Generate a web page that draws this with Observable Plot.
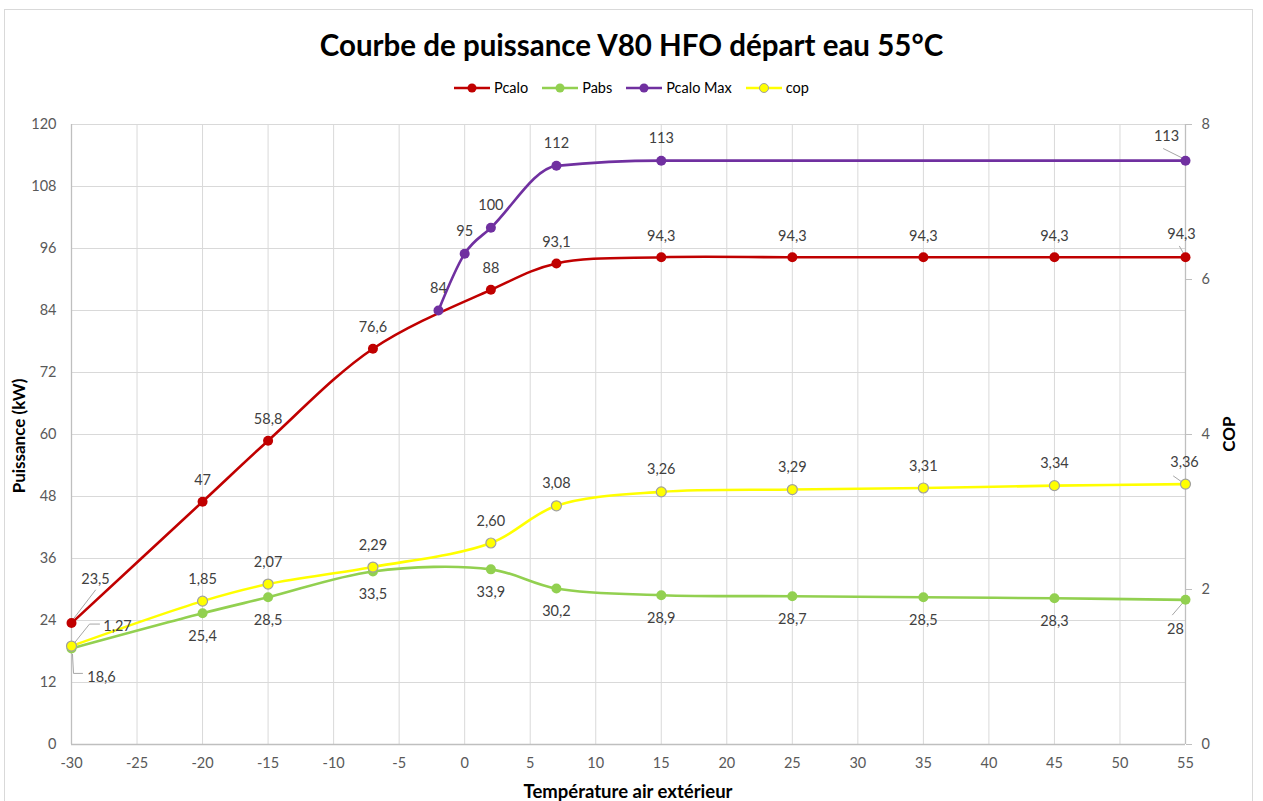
<!DOCTYPE html>
<html>
<head>
<meta charset="utf-8">
<script src="https://cdn.jsdelivr.net/npm/d3@7"></script>
<script src="https://cdn.jsdelivr.net/npm/@observablehq/plot@0.6"></script>
<style>
  body { margin: 0; background: #fff; font-family: Lato, "Open Sans", sans-serif; }
  #wrap { position: relative; width: 1263px; height: 801px; overflow: hidden; background: #fff; }
  #frame { position: absolute; left: 4px; top: 9px; width: 1249px; height: 810px; border: 1px solid #d9d9d9; box-sizing: border-box; }
  #title { position: absolute; top: 26px; left: 0; width: 1263px; text-align: center; font-weight: bold; font-size: 29.5px; color: #000; line-height: 38px; }
  #legend { position: absolute; top: 78px; left: 0; width: 1263px; display: flex; justify-content: center; gap: 14px; font-size: 14.5px; color: #000; line-height: 20px; }
  #legend .item { display: flex; align-items: center; gap: 4px; }
  #chart { position: absolute; left: 0; top: 100px; }
  .axtitle { position: absolute; font-weight: bold; font-size: 17px; color: #000; white-space: nowrap; transform: translate(-50%, -50%); }
  .rot { transform: translate(-50%, -50%) rotate(-90deg); }
</style>
</head>
<body>
<div id="wrap">
  <div id="frame"></div>
  <div id="title">Courbe de puissance V80 HFO départ eau 55°C</div>
  <div id="legend"></div>
  <div id="chart"></div>
  <div class="axtitle rot" style="left:18px; top:436px;">Puissance (kW)</div>
  <div class="axtitle rot" style="left:1228px; top:434px;">COP</div>
  <div class="axtitle" style="left:628px; top:791px; font-size:18.5px;">Température air extérieur</div>
</div>
<script>
// ---- data ----
const temps = [-30, -20, -15, -7, 2, 7, 15, 25, 35, 45, 55];
const pcalo = [23.5, 47, 58.8, 76.6, 88, 93.1, 94.3, 94.3, 94.3, 94.3, 94.3];
const pabs = [18.6, 25.4, 28.5, 33.5, 33.9, 30.2, 28.9, 28.7, 28.5, 28.3, 28];
const copVals = [1.27, 1.85, 2.07, 2.29, 2.60, 3.08, 3.26, 3.29, 3.31, 3.34, 3.36];
const tempsMax = [-2, 0, 2, 7, 15, 55];
const pcaloMax = [84, 95, 100, 112, 113, 113];
const seriesNames = ["Pcalo", "Pabs", "Pcalo Max", "cop"];
const seriesColors = ["#C00000", "#92D050", "#7030A0", "#FFFF00"];
const xTicks = [-30, -25, -20, -15, -10, -5, 0, 5, 10, 15, 20, 25, 30, 35, 40, 45, 50, 55];
const yTicks = [0, 12, 24, 36, 48, 60, 72, 84, 96, 108, 120];
const copTicks = [0, 2, 4, 6, 8];

// ---- layout ----
const W = 1263, H = 701;
const mT = 24, mB = 57, mL = 71, mR = 78;
const xDom = [-30, 55], yDom = [0, 120], copMax = 8;
const copK = yDom[1] / copMax; // cop -> left scale
const kx = (W - mL - mR) / (xDom[1] - xDom[0]);
const ky = (H - mT - mB) / (yDom[1] - yDom[0]);

const fmtFr = v => String(v).replace(".", ",");
const fmtCop = v => v.toFixed(2).replace(".", ",");

function build(name, xs, ys, scaleK, fmt) {
  return xs.map((x, i) => ({series: name, x, y: ys[i] * scaleK, raw: ys[i], label: fmt(ys[i])}));
}
const dPcalo = build("Pcalo", temps, pcalo, 1, fmtFr);
const dPabs = build("Pabs", temps, pabs, 1, fmtFr);
const dMax = build("Pcalo Max", tempsMax, pcaloMax, 1, fmtFr);
const dCop = build("cop", temps, copVals, copK, fmtCop);

// label placement (pixel offsets) per series, with overrides at the ends
const defaultDy = {"Pcalo": -21, "Pabs": 23, "Pcalo Max": -22, "cop": -22};
const overrides = {
  "Pcalo|-30": {dx: 24, dy: -44, lead: [[1, -3], [24, -33]]},
  "cop|-30": {dx: 46, dy: -20, lead: [[2, -2], [18, -22], [28, -22]]},
  "Pabs|-30": {dx: 30, dy: 29, lead: [[1, 6], [2, 25], [11, 25]]},
  "Pcalo Max|55": {dx: -19, dy: -24, lead: [[-22, -12], [-2, -2]]},
  "Pcalo|55": {dx: -4, dy: -23, lead: [[-6, -11], [-1, -2]]},
  "Pabs|55": {dx: -10, dy: 30, lead: [[-13, 15], [-1, 1]]},
  "cop|55": {dx: -1, dy: -22, lead: [[-12, -8], [-2, -1]]}
};
const all = [...dPcalo, ...dPabs, ...dMax, ...dCop];
const labels = all.map(d => {
  const o = overrides[d.series + "|" + d.x] || {dx: 0, dy: defaultDy[d.series]};
  return {...d, lx: d.x + o.dx / kx, ly: d.y - o.dy / ky};
});
const leaders = [];
all.forEach(d => {
  const o = overrides[d.series + "|" + d.x];
  if (o && o.lead) o.lead.forEach(p => leaders.push({id: d.series + d.x, x: d.x + p[0] / kx, y: d.y - p[1] / ky}));
});

const color = s => seriesColors[seriesNames.indexOf(s)];
const curveOf = {"Pcalo": "catmull-rom", "Pabs": "catmull-rom", "Pcalo Max": "monotone-x", "cop": "catmull-rom"};
const lineMarks = [[dPcalo, "Pcalo"], [dPabs, "Pabs"], [dMax, "Pcalo Max"], [dCop, "cop"]].flatMap(([data, name]) => [
  Plot.line(data, {x: "x", y: "y", stroke: color(name), strokeWidth: 2.6, curve: curveOf[name]}),
  Plot.dot(data, {x: "x", y: "y", r: 5, fill: color(name), stroke: name === "cop" ? "#a0a0a0" : color(name), strokeWidth: name === "cop" ? 1.2 : 0})
]);

const chart = Plot.plot({
  width: W, height: H,
  marginTop: mT, marginBottom: mB, marginLeft: mL, marginRight: mR,
  x: {domain: xDom},
  y: {domain: yDom},
  style: {fontFamily: "Lato, 'Open Sans', sans-serif", fontSize: "14.5px", color: "#595959", background: "transparent"},
  marks: [
    Plot.gridX(xTicks, {stroke: "#d9d9d9", strokeOpacity: 1, strokeWidth: 1}),
    Plot.gridY(yTicks, {stroke: "#d9d9d9", strokeOpacity: 1, strokeWidth: 1}),
    Plot.ruleY([0], {stroke: "#bfbfbf", strokeWidth: 1.3}),
    Plot.ruleX([xDom[0]], {stroke: "#bfbfbf", strokeWidth: 1.3}),
    Plot.ruleX([xDom[1]], {stroke: "#bfbfbf", strokeWidth: 1.3}),
    Plot.axisX(xTicks, {tickSize: 0, tickPadding: 13, label: null, fill: "#595959", tickFormat: d => String(d)}),
    Plot.axisY(yTicks, {anchor: "left", tickSize: 0, tickPadding: 15, label: null, fill: "#595959", tickFormat: d => String(d)}),
    Plot.axisY(copTicks.map(v => v * copK), {anchor: "right", tickSize: 6, tickPadding: 10, stroke: "#bfbfbf", tickFormat: d => String(d / copK), label: null, fill: "#595959"}),
    Plot.line(leaders, {x: "x", y: "y", z: "id", stroke: "#a6a6a6", strokeWidth: 1}),
    ...lineMarks,
    Plot.text(labels, {x: "lx", y: "ly", text: "label", fill: "#404040", fontSize: 14.5})
  ]
});
document.getElementById("chart").appendChild(chart);

// legend
const legend = document.getElementById("legend");
seriesNames.forEach((n, i) => {
  const item = document.createElement("div");
  item.className = "item";
  const isCop = n === "cop";
  item.innerHTML = `<svg width="36" height="14"><line x1="0" y1="7" x2="36" y2="7" stroke="${seriesColors[i]}" stroke-width="2.6"/><circle cx="18" cy="7" r="4.5" fill="${seriesColors[i]}" stroke="${isCop ? '#a0a0a0' : seriesColors[i]}" stroke-width="${isCop ? 1 : 0}"/></svg><span>${n}</span>`;
  legend.appendChild(item);
});
</script>
</body>
</html>
